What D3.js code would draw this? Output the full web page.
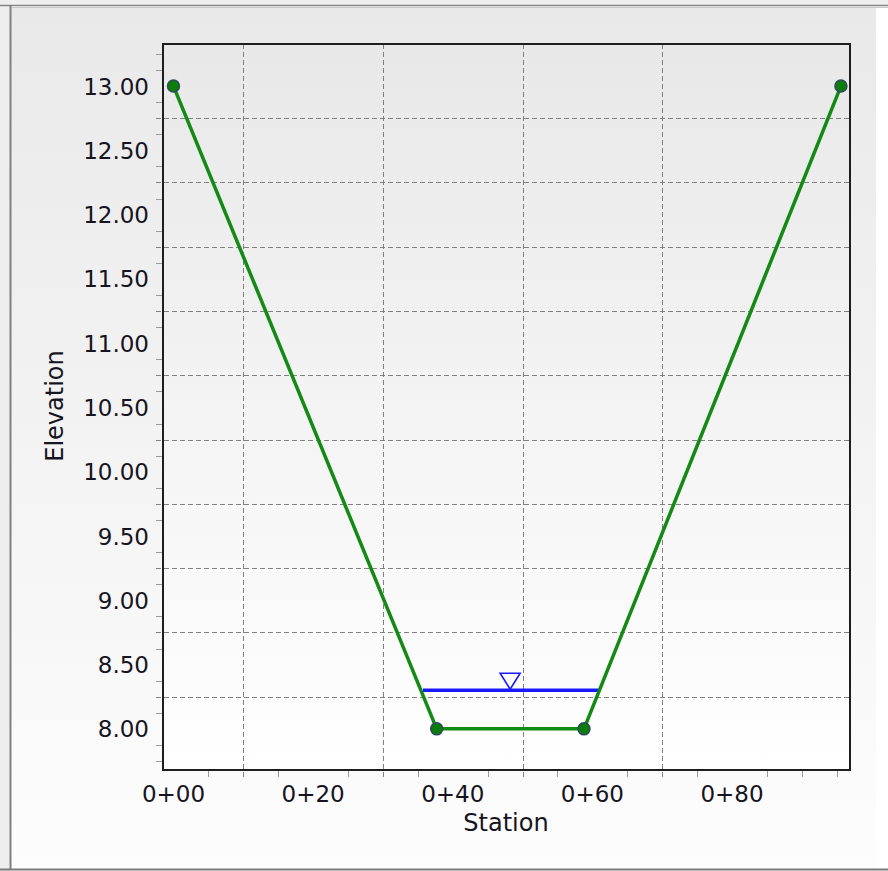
<!DOCTYPE html>
<html>
<head>
<meta charset="utf-8">
<script src="https://cdn.jsdelivr.net/npm/d3@7"></script>
<style>
  html, body { margin: 0; padding: 0; background: #ffffff; }
  svg { display: block; }
  text { font-family: "DejaVu Sans", Verdana, sans-serif; fill: #16141e; }
</style>
</head>
<body>
<svg id="chart" width="888" height="871"></svg>
<script>
// ---- data ----
const stations   = [0, 37.7, 58.8, 95.6];
const elevations = [13.0, 8.0, 8.0, 13.0];
const waterElevation = 8.30;

const yLabelValues = [8.0, 8.5, 9.0, 9.5, 10.0, 10.5, 11.0, 11.5, 12.0, 12.5, 13.0];
const yGridValues  = [8.25, 8.75, 9.25, 9.75, 10.25, 10.75, 11.25, 11.75, 12.25, 12.75];
const yMinorValues = [7.75, 7.875, 8.125, 8.375, 8.625, 8.875, 9.125, 9.375, 9.625, 9.875,
                      10.125, 10.375, 10.625, 10.875, 11.125, 11.375, 11.625, 11.875,
                      12.125, 12.375, 12.625, 12.875, 13.125, 13.25];
const xLabelValues = [0, 20, 40, 60, 80];
const xLabelTexts  = ["0+00", "0+20", "0+40", "0+60", "0+80"];
const xGridValues  = [10, 30, 50, 70];
const xMinorValues = [5, 15, 25, 35, 45, 55, 65, 75, 85, 90, 95];

const xTitle = "Station";
const yTitle = "Elevation";

// ---- layout ----
const W = 888, H = 871;
const plot = { left: 163, top: 44, right: 850, bottom: 770 };

const svg = d3.select("#chart");
const defs = svg.append("defs");

const gOuter = defs.append("linearGradient").attr("id", "gOuter")
  .attr("x1", 0).attr("y1", 0).attr("x2", 0).attr("y2", 1);
gOuter.append("stop").attr("offset", "0%").attr("stop-color", "#e9e9e9");
gOuter.append("stop").attr("offset", "100%").attr("stop-color", "#fdfdfd");

const gPlot = defs.append("linearGradient").attr("id", "gPlot")
  .attr("x1", 0).attr("y1", 0).attr("x2", 0).attr("y2", 1);
gPlot.append("stop").attr("offset", "0%").attr("stop-color", "#e8e8e8");
gPlot.append("stop").attr("offset", "100%").attr("stop-color", "#ffffff");

// background strips and panel
svg.append("rect").attr("x", 0).attr("y", 0).attr("width", W).attr("height", H).attr("fill", "#ffffff");
svg.append("rect").attr("x", 0).attr("y", 0).attr("width", W).attr("height", 6).attr("fill", "#f0f0f0");
svg.append("rect").attr("x", 0).attr("y", 0).attr("width", 10).attr("height", H).attr("fill", "#eeeeee");
svg.append("rect").attr("x", 11).attr("y", 7).attr("width", 865).attr("height", 862).attr("fill", "url(#gOuter)");
svg.append("line").attr("x1", 0).attr("x2", W).attr("y1", 5.5).attr("y2", 5.5).attr("stroke", "#858585").attr("stroke-width", 1.5);
svg.append("line").attr("x1", 11).attr("x2", W).attr("y1", 7.5).attr("y2", 7.5).attr("stroke", "#c8c8c8").attr("stroke-width", 1);
svg.append("line").attr("x1", 10.5).attr("x2", 10.5).attr("y1", 5).attr("y2", 870).attr("stroke", "#808080").attr("stroke-width", 2);
svg.append("line").attr("x1", 0).attr("x2", W).attr("y1", 869.5).attr("y2", 869.5).attr("stroke", "#7a7a7a").attr("stroke-width", 2);

// ---- scales ----
const x = d3.scaleLinear().domain([-1.5, 96.9]).range([plot.left, plot.right]);
const y = d3.scaleLinear().domain([7.68, 13.327]).range([plot.bottom, plot.top]);

// plot background
svg.append("rect").attr("x", plot.left).attr("y", plot.top)
  .attr("width", plot.right - plot.left).attr("height", plot.bottom - plot.top)
  .attr("fill", "url(#gPlot)");

// gridlines
const grid = svg.append("g").attr("stroke", "#808080").attr("stroke-width", 1).attr("stroke-dasharray", "5,3");
grid.selectAll(".gx").data(xGridValues).join("line")
  .attr("x1", d => Math.round(x(d)) + 0.5).attr("x2", d => Math.round(x(d)) + 0.5)
  .attr("y1", plot.top).attr("y2", plot.bottom + 7);
grid.selectAll(".gy").data(yGridValues).join("line")
  .attr("y1", d => Math.round(y(d)) + 0.5).attr("y2", d => Math.round(y(d)) + 0.5)
  .attr("x1", plot.left - 7).attr("x2", plot.right);

// minor ticks
const ticks = svg.append("g").attr("stroke", "#9a9a9a").attr("stroke-width", 1);
ticks.selectAll(".tx").data(xMinorValues).join("line")
  .attr("x1", d => Math.round(x(d)) + 0.5).attr("x2", d => Math.round(x(d)) + 0.5)
  .attr("y1", plot.bottom + 1).attr("y2", plot.bottom + 7);
ticks.selectAll(".ty").data(yMinorValues).join("line")
  .attr("y1", d => Math.round(y(d)) + 0.5).attr("y2", d => Math.round(y(d)) + 0.5)
  .attr("x1", plot.left - 7).attr("x2", plot.left - 1);

// frame
svg.append("rect").attr("x", plot.left).attr("y", plot.top)
  .attr("width", plot.right - plot.left).attr("height", plot.bottom - plot.top)
  .attr("fill", "none").attr("stroke", "#1e1e1e").attr("stroke-width", 2);

// tick labels
svg.append("g").selectAll("text").data(yLabelValues).join("text")
  .attr("x", 149).attr("y", d => y(d) + 8.5)
  .attr("text-anchor", "end").attr("font-size", 23)
  .text(d => d3.format(".2f")(d));

svg.append("g").selectAll("text").data(xLabelValues).join("text")
  .attr("x", d => x(d)).attr("y", 802)
  .attr("text-anchor", "middle").attr("font-size", 23)
  .text((d, i) => xLabelTexts[i]);

// axis titles
svg.append("text").attr("x", 506).attr("y", 831).attr("text-anchor", "middle")
  .attr("font-size", 24).text(xTitle);
svg.append("text").attr("transform", "translate(63,406) rotate(-90)")
  .attr("text-anchor", "middle").attr("font-size", 24).text(yTitle);

// ---- water surface ----
function bankCrossing(level) {
  const pts = [];
  for (let i = 0; i < stations.length - 1; i++) {
    const e0 = elevations[i], e1 = elevations[i + 1];
    if ((e0 - level) * (e1 - level) < 0) {
      const t = (level - e0) / (e1 - e0);
      pts.push(stations[i] + t * (stations[i + 1] - stations[i]));
    }
  }
  return [d3.min(pts), d3.max(pts)];
}
const [wl, wr] = bankCrossing(waterElevation);
svg.append("line")
  .attr("x1", x(wl) + 2).attr("x2", x(wr))
  .attr("y1", y(waterElevation)).attr("y2", y(waterElevation))
  .attr("stroke", "#1a1aff").attr("stroke-width", 3.5);
const mid = x((wl + wr) / 2);
const wy = y(waterElevation);
svg.append("path")
  .attr("d", `M${mid - 10},${wy - 17} L${mid + 10},${wy - 17} L${mid},${wy - 1} Z`)
  .attr("fill", "none").attr("stroke", "#1a1aff").attr("stroke-width", 1.6);

// ---- ground line ----
const pts = stations.map((s, i) => [s, elevations[i]]);
svg.append("path").datum(pts)
  .attr("d", d3.line().x(d => x(d[0])).y(d => y(d[1])))
  .attr("fill", "none").attr("stroke", "#138a13").attr("stroke-width", 3.5)
  .attr("stroke-linejoin", "round");
svg.append("g").selectAll("circle").data(pts).join("circle")
  .attr("cx", d => x(d[0])).attr("cy", d => y(d[1])).attr("r", 6)
  .attr("fill", "#0a7d0a").attr("stroke", "#2f4a5e").attr("stroke-width", 1.5);
</script>
</body>
</html>
